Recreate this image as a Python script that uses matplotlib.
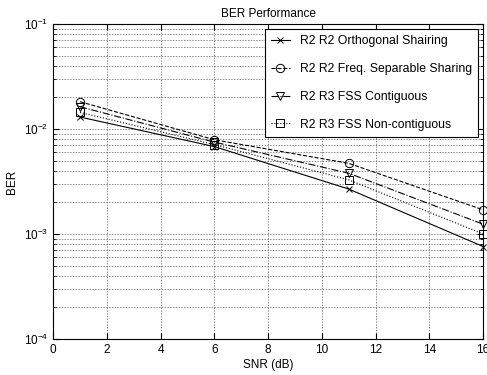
import matplotlib
matplotlib.use("Agg")
import matplotlib.pyplot as plt

plt.rcParams["font.family"] = ["Liberation Sans", "DejaVu Sans"]
plt.rcParams["mathtext.default"] = "regular"

snr = [1, 6, 11, 16]
ber_orth = [0.0130, 0.0068, 0.00268, 0.00076]
ber_fss = [0.0182, 0.0079, 0.00471, 0.00170]
ber_contig = [0.0163, 0.0075, 0.00379, 0.00124]
ber_noncontig = [0.0144, 0.0071, 0.00328, 0.00100]

labels = [
    "R2 R2 Orthogonal Shairing",
    "R2 R2 Freq. Separable Sharing",
    "R2 R3 FSS Contiguous",
    "R2 R3 FSS Non-contiguous",
]

fig = plt.figure(figsize=(4.87, 3.75), dpi=100)
ax = fig.add_axes([0.109, 0.096, 0.883, 0.840])

ax.semilogy(snr, ber_orth, color="black", lw=0.8, linestyle="-", marker="x",
            markersize=4, mew=0.7, label=labels[0], clip_on=False)
ax.semilogy(snr, ber_fss, color="black", lw=0.8, linestyle="--", marker="o",
            markersize=6, mfc="none", mew=0.7, label=labels[1], clip_on=False)
ax.semilogy(snr, ber_contig, color="black", lw=0.8, linestyle="-.", marker="v",
            markersize=6, mfc="none", mew=0.7, label=labels[2], clip_on=False)
ax.semilogy(snr, ber_noncontig, color="black", lw=0.8, linestyle=":", marker="s",
            markersize=6, mfc="none", mew=0.7, label=labels[3], clip_on=False)

ax.set_xlim(0, 16)
ax.set_ylim(1e-4, 1e-1)
ax.set_xticks(range(0, 17, 2))
ax.set_title("BER Performance", fontsize=8.5, pad=5)
ax.set_xlabel("SNR (dB)", fontsize=8.5, labelpad=2)
ax.set_ylabel("BER", fontsize=8.5, labelpad=4)
ax.tick_params(which="both", direction="in", top=True, right=True, labelsize=8.5)
ax.tick_params(which="major", length=4)
ax.tick_params(which="minor", length=2)
ax.grid(True, which="both", color="#555555", linestyle=(0, (2, 2)), lw=0.5)
for s in ax.spines.values():
    s.set_linewidth(0.8)

leg = ax.legend(loc="upper right", fontsize=8.8, frameon=True, fancybox=False,
                edgecolor="black", framealpha=1, labelspacing=1.3,
                handlelength=1.6, handletextpad=0.8, borderpad=0.5,
                borderaxespad=0.4)
leg.get_frame().set_linewidth(0.8)
leg.set_zorder(5)

fig.savefig("out.png", dpi=100)
